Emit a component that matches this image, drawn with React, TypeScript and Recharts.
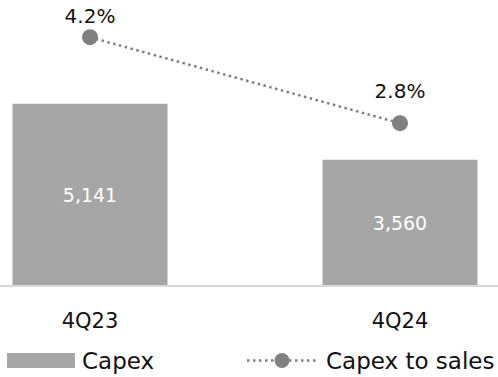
import React from 'react';
import { ComposedChart, Bar, Line, XAxis, YAxis, LabelList } from 'recharts';

const quarters = ['4Q23', '4Q24'];
const capex = [5141, 3560];
const capexToSales = [4.2, 2.8];

const data = quarters.map((q, i) => ({ q, capex: capex[i], ratio: capexToSales[i] }));

const FONT = '"DejaVu Sans", sans-serif';
const BAR = '#a6a6a6';
const LINE = '#808080';
// extra gap above the ratio labels, per point
const LABEL_GAP = [14, 25];

const Tick = (props: any) => {
  const { x, y, payload } = props;
  return (
    <text x={x} y={y + 27} textAnchor="middle" dominantBaseline="central" fontSize={21} fill="#111" fontFamily={FONT}>
      {payload.value}
    </text>
  );
};

const RatioLabel = (props: any) => {
  const { x, y, value, index } = props;
  return (
    <text x={x} y={y - LABEL_GAP[index]} textAnchor="middle" fontSize={20} fill="#111" fontFamily={FONT}>
      {`${Number(value).toFixed(1)}%`}
    </text>
  );
};

const App = () => {
  return (
    <div style={{ position: 'fixed', left: 0, top: 0, width: 498, height: 377, overflow: 'hidden', background: '#fff', fontFamily: FONT }}>
      <div style={{ position: 'absolute', left: -65.5, top: 0 }}>
        <ComposedChart width={620} height={340} data={data} margin={{ top: 20, right: 0, bottom: 0, left: 0 }} barCategoryGap="25%">
          <XAxis dataKey="q" axisLine={{ stroke: '#d9d9d9', strokeWidth: 2 }} tickLine={false} height={54} tick={<Tick />} interval={0} />
          <YAxis yAxisId="l" hide domain={[0, 7500]} />
          <YAxis yAxisId="r" orientation="right" hide domain={[0.15, 4.48]} />
          <Bar yAxisId="l" dataKey="capex" fill={BAR} isAnimationActive={false}>
            <LabelList dataKey="capex" position="center" fill="#fff" fontSize={19} fontFamily={FONT}
              formatter={(v: any) => Number(v).toLocaleString('en-US')} />
          </Bar>
          <Line yAxisId="r" dataKey="ratio" stroke={LINE} strokeWidth={2.5} strokeDasharray="2.5 3.5"
            dot={{ r: 8, fill: LINE, stroke: 'none' }} isAnimationActive={false}>
            <LabelList dataKey="ratio" content={<RatioLabel />} />
          </Line>
        </ComposedChart>
      </div>
      <div style={{ position: 'absolute', left: 0, top: 343, width: 498, height: 34 }}>
        <svg width={498} height={34} style={{ position: 'absolute', left: 0, top: 0 }}>
          <rect x={7} y={10} width={68} height={15} fill={BAR} />
          <line x1={247} x2={318} y1={17.5} y2={17.5} stroke={LINE} strokeWidth={2.5} strokeDasharray="2.5 3.5" />
          <circle cx={282} cy={17.5} r={7.5} fill={LINE} />
          <text x={82} y={17.5} dominantBaseline="central" fontSize={23} fill="#111" fontFamily={FONT}>Capex</text>
          <text x={326} y={17.5} dominantBaseline="central" fontSize={23} fill="#111" fontFamily={FONT}>Capex to sales</text>
        </svg>
      </div>
    </div>
  );
};

export default App;
